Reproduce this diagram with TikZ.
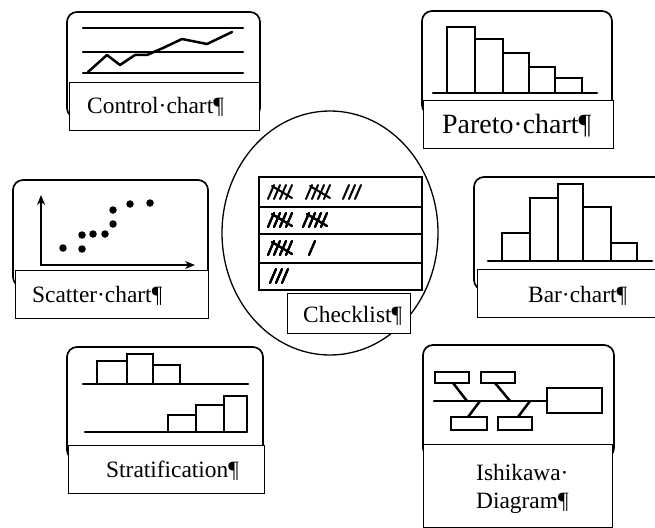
\documentclass[tikz,border=0pt]{standalone}
\usepackage{fontspec}
\setmainfont{Liberation Serif}
\usetikzlibrary{arrows.meta}
\tikzset{
  frm/.style={draw, line width=1.7pt, rounded corners=10pt},
  labbox/.style={draw, line width=0.8pt, fill=white},
  ink/.style={line width=2.5pt, line cap=round, line join=round},
  bars/.style={line width=2.3pt, line join=miter},
  txt/.style={font=\fontsize{23.4}{26}\selectfont, inner sep=0pt, anchor=base west},
  axis/.style={ink, -{Stealth[length=10pt,width=8pt]}},
  dot/.style={fill, circle, inner sep=0pt, minimum size=7.5pt},
  tal/.style={line width=2pt, line cap=round},
}
% tally marks: bundle of five and single stroke, centred on row y
\newcommand\tallyfive[2]{%
  \foreach \i in {0,...,3} \draw[tal] ({#1+\i*6},{#2+7}) -- ({#1+\i*6+6},{#2-7});
  \draw[tal] ({#1+4},{#2-6}) -- ({#1+24},{#2+6});}
\newcommand\tallyone[2]{\draw[tal] (#1,{#2+7}) -- ({#1+6},{#2-7});}

\begin{document}
\begin{tikzpicture}[x=1pt, y=-1pt]
  \useasboundingbox (0,0) rectangle (655,527);

  % control chart
  \draw[frm] (67,12) rectangle (260,118);
  \foreach \y in {28,52,73} \draw[ink] (83,\y) -- (243,\y);
  \draw[ink] (88,72) -- (107,55) -- (120,65) -- (135,55) -- (147,55) -- (163,48) -- (182,39) -- (207,44) -- (232,32);
  \draw[labbox] (69,82) rectangle (259,130);
  \node[txt] (ctrl) at (87,113) {Control·chart¶};

  % pareto chart
  \draw[frm] (422,11) rectangle (612,115);
  \draw[ink] (433,93) -- (597,93);
  \foreach \a/\b/\t in {447/475/27,475/503/39,503/529/53,529/555/67,555/582/78}
    \draw[bars] (\a,93) |- (\b,\t) -- (\b,93);
  \draw[labbox] (423,100) rectangle (613,148);
  \node[txt, font=\fontsize{27.9}{30}\selectfont] (pareto) at (442,133) {Pareto·chart¶};

  % scatter chart
  \draw[frm] (13,180) rectangle (208,287);
  \draw[axis] (41,265) -- (41,195);
  \draw[axis] (41,265) -- (195,265);
  \foreach \px/\py in {63/248,82/249,82/235,93/234,105/234,113/224,113/210,130/204,150/203}
    \node[dot] at (\px,\py) {};
  \draw[labbox] (15,270) rectangle (208,318);
  \node[txt] (scatter) at (32,302) {Scatter·chart¶};

  % checklist
  \draw[line width=1.3pt] (330,233) ellipse [x radius=108, y radius=122];
  \draw[line width=2.2pt] (259,177) rectangle (422,290);
  \foreach \y in {207,234,263} \draw[line width=2.2pt] (259,\y) -- (422,\y);
  \tallyfive{268}{192} \tallyfive{306}{192}
  \foreach \x in {343,349,355} \tallyone{\x}{192}
  \tallyfive{268}{220} \tallyfive{303}{220}
  \tallyfive{268}{248} \tallyone{309}{248}
  \foreach \x in {270,276,282} \tallyone{\x}{276}
  \draw[labbox] (287,293) rectangle (410,333);
  \node[txt] (check) at (303,322) {Checklist¶};

  % bar chart
  \draw[frm] (474,177) rectangle (672,290);
  \draw[ink] (488,261) -- (652,261);
  \foreach \a/\b/\t in {502/530/233,530/558/198,558/583/184,583/611/207,611/637/243}
    \draw[bars] (\a,261) |- (\b,\t) -- (\b,261);
  \draw[labbox] (477,269) rectangle (672,317);
  \node[txt] (bar) at (528,302) {Bar·chart¶};

  % stratification
  \draw[frm] (67,347) rectangle (263,460);
  \draw[ink] (83,384) -- (248,384);
  \foreach \a/\b/\t in {97/127/361,127/153/354,153/180/365}
    \draw[bars] (\a,384) |- (\b,\t) -- (\b,384);
  \draw[ink] (85,432) -- (247,432);
  \foreach \a/\b/\t in {168/196/415,196/224/405,224/247/396}
    \draw[bars] (\a,432) |- (\b,\t) -- (\b,432);
  \draw[labbox] (68,445) rectangle (264,493);
  \node[txt] (strat) at (106,477) {Stratification¶};

  % ishikawa diagram
  \draw[frm] (423,345) rectangle (614,458);
  \draw[ink] (434,401) -- (547,401);
  \draw[bars] (547,388) rectangle (602,413);
  \draw[bars] (435,372) rectangle (469,383);
  \draw[bars] (481,372) rectangle (515,383);
  \draw[bars] (451,417) rectangle (487,430);
  \draw[bars] (498,417) rectangle (532,430);
  \draw[ink] (453,383) -- (467,401) (495,383) -- (510,401)
             (480,401) -- (468,417) (530,401) -- (518,417);
  \draw[labbox] (423,444) rectangle (612,527);
  \node[txt] (ishi) at (476,480) {Ishikawa·};
  \node[txt] (diag) at (476,508) {Diagram¶};
\end{tikzpicture}
\end{document}
